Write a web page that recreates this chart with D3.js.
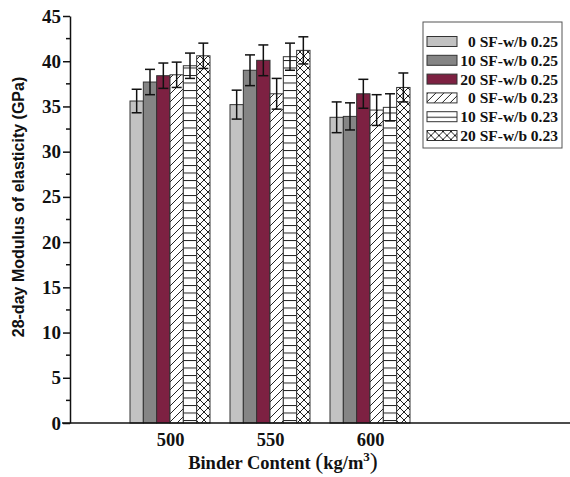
<!DOCTYPE html>
<html>
<head>
<meta charset="utf-8">
<script src="https://cdn.jsdelivr.net/npm/d3@7"></script>
<style>
  body { margin: 0; background: #fff; }
  svg text { fill: #111; }
</style>
</head>
<body>
<div id="chart"></div>
<script>
// binder contents (x categories)
var binders = [500, 550, 600];
// series names
var seriesNames = ["0 SF-w/b 0.25", "10 SF-w/b 0.25", "20 SF-w/b 0.25",
                   "0 SF-w/b 0.23", "10 SF-w/b 0.23", "20 SF-w/b 0.23"];
// mean modulus per series, one value per binder content
var s0_025  = [35.6, 35.2, 33.8];
var s10_025 = [37.7, 39.0, 33.9];
var s20_025 = [38.4, 40.1, 36.4];
var s0_023  = [38.5, 36.4, 34.6];
var s10_023 = [39.5, 40.5, 34.9];
var s20_023 = [40.6, 41.2, 37.1];
// standard deviation (error bars)
var e0_025  = [1.3, 1.6, 1.7];
var e10_025 = [1.4, 1.7, 1.5];
var e20_025 = [1.4, 1.7, 1.6];
var e0_023  = [1.4, 1.7, 1.7];
var e10_023 = [1.4, 1.5, 1.5];
var e20_023 = [1.4, 1.5, 1.6];
var yTicks = [0, 5, 10, 15, 20, 25, 30, 35, 40, 45];

var values = [s0_025, s10_025, s20_025, s0_023, s10_023, s20_023];
var errors = [e0_025, e10_025, e20_025, e0_023, e10_023, e20_023];
var fills = ["#c2c2c2", "#858585", "#7d2142", "url(#diag)", "url(#horiz)", "url(#cross)"];

var width = 570, height = 477;
var margin = {left: 70, right: 0, top: 16, bottom: 54};
var serif = "'Liberation Serif', 'Times New Roman', serif";

var svg = d3.select("#chart").append("svg")
    .attr("width", width)
    .attr("height", height);

// hatch patterns
var defs = svg.append("defs");
var diag = defs.append("pattern").attr("id", "diag")
    .attr("patternUnits", "userSpaceOnUse").attr("width", 8).attr("height", 8);
diag.append("rect").attr("width", 8).attr("height", 8).attr("fill", "#fff");
diag.append("path").attr("d", "M-2,2 L2,-2 M0,8 L8,0 M6,10 L10,6")
    .attr("stroke", "#222").attr("stroke-width", 1);

var horiz = defs.append("pattern").attr("id", "horiz")
    .attr("patternUnits", "userSpaceOnUse").attr("width", 8).attr("height", 7.5);
horiz.append("rect").attr("width", 8).attr("height", 7.5).attr("fill", "#fff");
horiz.append("path").attr("d", "M0,0.5 L8,0.5")
    .attr("stroke", "#222").attr("stroke-width", 1);

var cross = defs.append("pattern").attr("id", "cross")
    .attr("patternUnits", "userSpaceOnUse").attr("width", 8).attr("height", 8);
cross.append("rect").attr("width", 8).attr("height", 8).attr("fill", "#fff");
cross.append("path").attr("d", "M0,0 L8,8 M0,8 L8,0")
    .attr("stroke", "#222").attr("stroke-width", 1);

var x = d3.scaleLinear().domain([450, 700]).range([margin.left, width - margin.right]);
var y = d3.scaleLinear().domain([0, 45]).range([height - margin.bottom, margin.top]);

var groupWidth = 80;
var inner = d3.scaleBand().domain(d3.range(seriesNames.length))
    .range([-groupWidth / 2, groupWidth / 2]);

// bars
var bars = [];
values.forEach(function(vals, s) {
  vals.forEach(function(v, i) {
    bars.push({s: s, binder: binders[i], value: v, err: errors[s][i]});
  });
});

svg.append("g").selectAll("rect")
  .data(bars)
  .enter().append("rect")
  .attr("x", function(d) { return x(d.binder) + inner(d.s); })
  .attr("y", function(d) { return y(d.value); })
  .attr("width", inner.bandwidth())
  .attr("height", function(d) { return y(0) - y(d.value); })
  .attr("fill", function(d) { return fills[d.s]; })
  .attr("stroke", "#333")
  .attr("stroke-width", 1);

// error bars
var eb = svg.append("g").attr("stroke", "#111").attr("stroke-width", 1.5);
bars.forEach(function(d) {
  var cx = x(d.binder) + inner(d.s) + inner.bandwidth() / 2;
  eb.append("line").attr("x1", cx).attr("x2", cx)
    .attr("y1", y(d.value - d.err)).attr("y2", y(d.value + d.err));
  eb.append("line").attr("x1", cx - 5).attr("x2", cx + 5)
    .attr("y1", y(d.value + d.err)).attr("y2", y(d.value + d.err));
  eb.append("line").attr("x1", cx - 5).attr("x2", cx + 5)
    .attr("y1", y(d.value - d.err)).attr("y2", y(d.value - d.err));
});

// y axis
var yAxis = svg.append("g")
  .attr("transform", "translate(" + margin.left + ",0)")
  .call(d3.axisLeft(y).tickValues(yTicks).tickSize(7).tickSizeOuter(0));
yAxis.selectAll("text")
  .style("font-family", serif)
  .style("font-weight", "bold").style("font-size", "19px").attr("x", -9);
// minor ticks
yAxis.selectAll(".minor").data(d3.range(2.5, 45, 5)).enter().append("line")
  .attr("class", "minor").attr("x1", -4).attr("x2", 0)
  .attr("y1", function(d) { return y(d); }).attr("y2", function(d) { return y(d); })
  .attr("stroke", "#111");
yAxis.selectAll("path, line").attr("stroke", "#111").attr("stroke-width", 1.5);

// x axis
var xAxis = svg.append("g")
  .attr("transform", "translate(0," + y(0) + ")")
  .call(d3.axisBottom(x).tickValues(binders).tickSize(0).tickSizeOuter(0).tickFormat(d3.format("d")));
xAxis.select(".domain").attr("d", "M" + (margin.left - 8) + ",0H" + width)
  .attr("stroke", "#111").attr("stroke-width", 1.5);
xAxis.selectAll("text").attr("y", 10)
  .style("font-family", serif)
  .style("font-weight", "bold").style("font-size", "18.5px");

// axis titles
svg.append("text")
  .attr("transform", "translate(24,207) rotate(-90)")
  .attr("text-anchor", "middle")
  .style("font-family", "'Liberation Sans', Arial, sans-serif")
  .style("font-weight", "bold").style("font-size", "16px")
  .text("28-day Modulus of elasticity (GPa)");

var xt = svg.append("text")
  .attr("x", 283).attr("y", 469)
  .attr("text-anchor", "middle")
  .style("font-family", serif)
  .style("font-weight", "bold").style("font-size", "18.5px");
xt.append("tspan").text("Binder Content ");
xt.append("tspan").style("font-size", "24px").style("font-weight", "normal").text("(");
xt.append("tspan").text("kg/m");
xt.append("tspan").attr("dy", -8).style("font-size", "13px").text("3");
xt.append("tspan").attr("dy", 8).style("font-size", "24px").style("font-weight", "normal").text(")");

// legend
var legend = svg.append("g").attr("transform", "translate(423,22)");
legend.append("rect").attr("width", 139).attr("height", 126)
  .attr("fill", "#fff").attr("stroke", "#555").attr("stroke-width", 1);
var items = legend.selectAll(".item").data(seriesNames).enter().append("g")
  .attr("class", "item")
  .attr("transform", function(d, i) { return "translate(0," + (19.5 + i * 18.8) + ")"; });
items.append("rect").attr("x", 4).attr("y", -5).attr("width", 30).attr("height", 10)
  .attr("fill", function(d, i) { return fills[i]; })
  .attr("stroke", "#333").attr("stroke-width", 1);
items.append("text").attr("x", 135).attr("y", 5.5)
  .attr("text-anchor", "end")
  .style("font-family", serif)
  .style("font-weight", "bold").style("font-size", "15.5px")
  .text(function(d) { return d; });
</script>
</body>
</html>
